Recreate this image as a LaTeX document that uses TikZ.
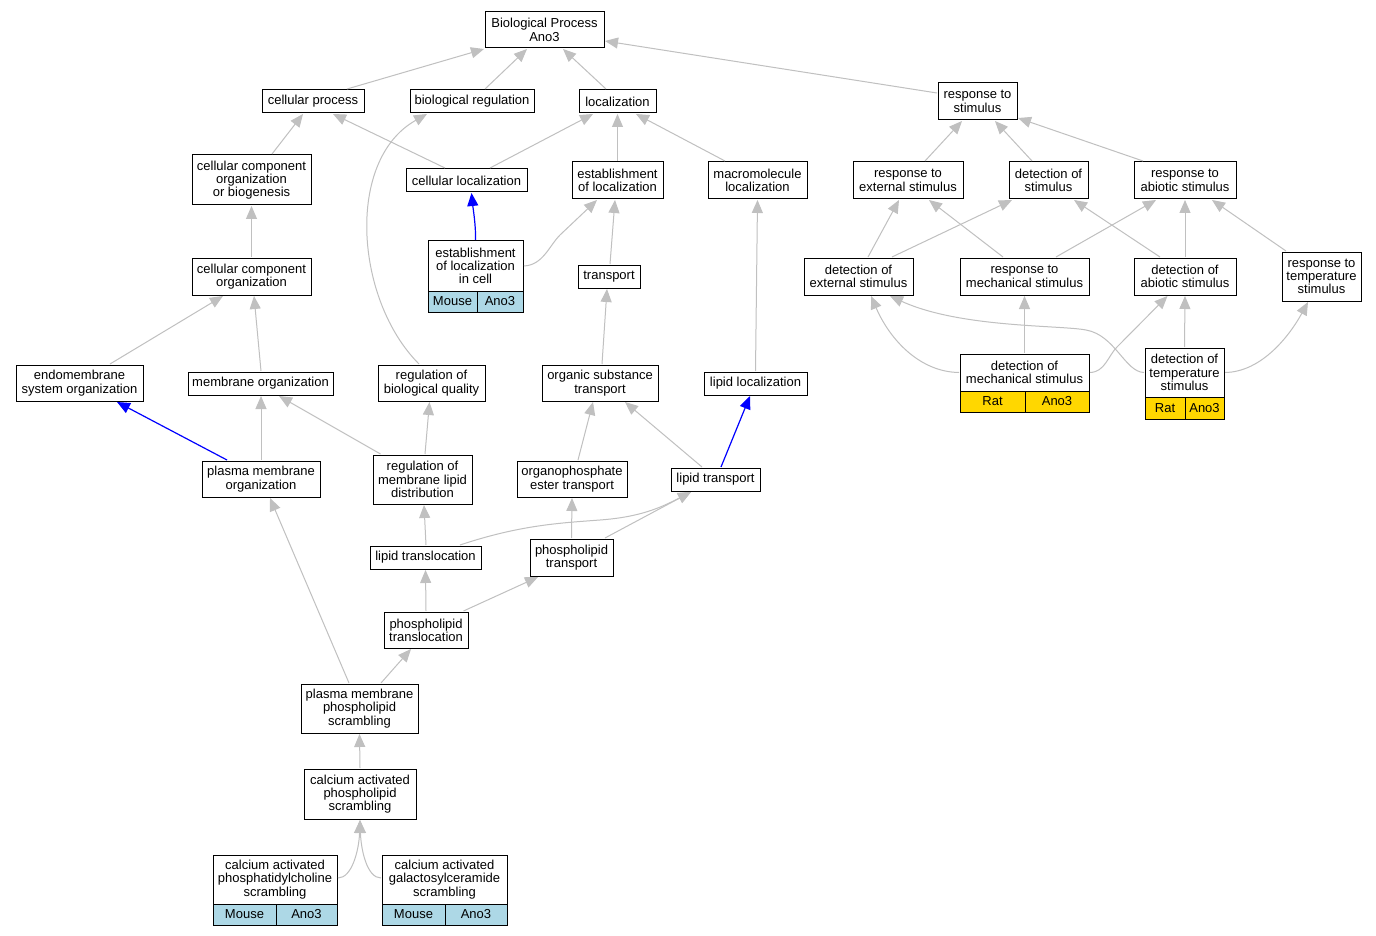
\documentclass[tikz,border=0pt]{standalone}
\usepackage{fontspec}
\setmainfont{Liberation Sans}
\usetikzlibrary{arrows.meta}
\definecolor{edgegray}{HTML}{C0C0C0}
\definecolor{mouseblue}{HTML}{ADD8E6}
\definecolor{ratgold}{HTML}{FFD700}
\newcommand\gobox[6]{\node[box, minimum width={(#4)-(#2)}, minimum height={(#5)-(#3)}] (#1) at ({((#2)+(#4))/2},{((#3)+(#5))/2}) {#6};}
\newcommand\gocell[7]{\node[box, fill=#7, minimum width={(#4)-(#2)}, minimum height={(#5)-(#3)}] (#1) at ({((#2)+(#4))/2},{((#3)+(#5))/2}) {#6};}
\begin{document}
\begin{tikzpicture}[x=1pt,y=-1pt,
  box/.style={draw=black, line width=1pt, fill=white, inner sep=0pt, outer sep=1pt, align=center, rectangle, font=\fontsize{13}{13.3}\selectfont},
  edge/.style={draw=edgegray, line width=1pt, -{Triangle[length=13pt,width=11pt,fill=edgegray]}},
  bedge/.style={draw=blue, line width=1.2pt, -{Triangle[length=13pt,width=11pt,fill=blue]}}]
\fill[white] (0,0) rectangle (1376,936);
\useasboundingbox (0,0) rectangle (1376,936);

\gobox{BP}{485}{12}{604}{48}{Biological Process\\Ano3}
\gobox{cp}{262}{90}{364}{113}{cellular process}
\gobox{br}{410}{90}{534}{113}{biological regulation}
\gobox{loc}{579}{90}{656}{113}{localization}
\gobox{rts}{938}{83}{1017}{120}{response to\\stimulus}
\gobox{ccob}{192}{155}{311}{205}{cellular component\\organization\\or biogenesis}
\gobox{cl}{406}{169}{527}{192}{cellular localization}
\gobox{eol}{572}{162}{663}{199}{establishment\\of localization}
\gobox{ml}{708}{162}{807}{199}{macromolecule\\localization}
\gobox{res}{853}{162}{963}{199}{response to\\external stimulus}
\gobox{ds}{1009}{162}{1088}{199}{detection of\\stimulus}
\gobox{ras}{1134}{162}{1236}{199}{response to\\abiotic stimulus}
\gobox{elic}{428}{241}{523}{291}{establishment\\of localization\\in cell}
\gocell{elicA}{428}{291}{477}{312}{Mouse}{mouseblue}
\gocell{elicB}{477}{291}{523}{312}{Ano3}{mouseblue}
\gobox{tr}{578}{265}{640}{288}{transport}
\gobox{cco}{192}{258}{311}{295}{cellular component\\organization}
\gobox{des}{804}{258}{913}{295}{detection of\\external stimulus}
\gobox{rms}{960}{258}{1089}{295}{response to\\mechanical stimulus}
\gobox{das}{1134}{258}{1236}{295}{detection of\\abiotic stimulus}
\gobox{rtemp}{1282}{252}{1361}{301}{response to\\temperature\\stimulus}
\gobox{dms}{960}{354}{1089}{391}{detection of\\mechanical stimulus}
\gocell{dmsA}{960}{391}{1025}{412}{Rat}{ratgold}
\gocell{dmsB}{1025}{391}{1089}{412}{Ano3}{ratgold}
\gobox{dts}{1145}{348}{1224}{397}{detection of\\temperature\\stimulus}
\gocell{dtsA}{1145}{397}{1185}{419}{Rat}{ratgold}
\gocell{dtsB}{1185}{397}{1224}{419}{Ano3}{ratgold}
\gobox{eso}{16}{365}{143}{401}{endomembrane\\system organization}
\gobox{mo}{188}{372}{333}{395}{membrane organization}
\gobox{rbq}{378}{365}{485}{401}{regulation of\\biological quality}
\gobox{ost}{542}{365}{658}{401}{organic substance\\transport}
\gobox{ll}{704}{372}{807}{395}{lipid localization}
\gobox{pmo}{202}{461}{320}{497}{plasma membrane\\organization}
\gobox{rmld}{373}{455}{472}{504}{regulation of\\membrane lipid\\distribution}
\gobox{oet}{517}{461}{627}{497}{organophosphate\\ester transport}
\gobox{lt}{671}{468}{760}{491}{lipid transport}
\gobox{ltl}{370}{546}{481}{569}{lipid translocation}
\gobox{pt}{530}{539}{613}{576}{phospholipid\\transport}
\gobox{ptl}{384}{612}{468}{648}{phospholipid\\translocation}
\gobox{pmps}{301}{684}{418}{733}{plasma membrane\\phospholipid\\scrambling}
\gobox{caps}{304}{769}{416}{819}{calcium activated\\phospholipid\\scrambling}
\gobox{capc}{213}{855}{337}{904}{calcium activated\\phosphatidylcholine\\scrambling}
\gocell{capcA}{213}{904}{276}{925}{Mouse}{mouseblue}
\gocell{capcB}{276}{904}{337}{925}{Ano3}{mouseblue}
\gobox{cagc}{382}{855}{507}{904}{calcium activated\\galactosylceramide\\scrambling}
\gocell{cagcA}{382}{904}{445}{925}{Mouse}{mouseblue}
\gocell{cagcB}{445}{904}{507}{925}{Ano3}{mouseblue}

% left / middle edges
\draw[edge] ([xshift=34]cp.north) -- (BP.south west);
\draw[edge] ([xshift=13]br.north) -- ([xshift=-17.5]BP.south);
\draw[edge] ([xshift=-11.5]loc.north) -- ([xshift=18.5]BP.south);
\draw[edge] ([yshift=8.5]rts.west) -- ([yshift=-11]BP.east);
\draw[edge] ([xshift=20.5]ccob.north) -- ([xshift=-10]cp.south);
\draw[edge] ([xshift=-21.5]cl.north) -- ([xshift=20]cp.south);
\draw[edge] ([xshift=23.5]cl.north) -- ([xshift=-24.5]loc.south);
\draw[edge] ([xshift=-12.5]rbq.north) .. controls (355,300) and (345,160) .. ([xshift=-45]br.south);
\draw[edge] (eol.north) -- (loc.south);
\draw[edge] ([xshift=-32.5]ml.north) -- ([xshift=18.5]loc.south);
\draw[bedge] (elic.north) .. controls (476,226) and (473,208) .. ([xshift=5]cl.south);
\draw[edge] (elic.east) .. controls (543,265) and (549,246) .. (560,235) -- ([xshift=-20.5]eol.south);
\draw[edge] ([xshift=1]tr.north) -- ([xshift=-2.5]eol.south);
\draw[edge] ([xshift=2]ost.north) -- ([xshift=-2]tr.south);
\draw[edge] (ll.north) -- (ml.south);
\draw[edge] (cco.north) -- (ccob.south);
\draw[edge] ([xshift=30.5]eso.north) -- ([xshift=-28.5]cco.south);
\draw[edge] ([xshift=0.5]mo.north) -- ([xshift=2.5]cco.south);
\draw[bedge] ([xshift=-34]pmo.north) -- ([xshift=37.5]eso.south);
\draw[edge] (pmo.north) -- ([xshift=0.5]mo.south);
\draw[edge] ([xshift=-42]rmld.north) -- ([xshift=18.5]mo.south);
\draw[edge] ([xshift=2.5]rmld.north) -- ([xshift=-2]rbq.south);
\draw[edge] ([xshift=6]oet.north) -- ([xshift=-7]ost.south);
\draw[edge] ([xshift=-13.5]lt.north) -- ([xshift=25]ost.south);
\draw[bedge] ([xshift=5.5]lt.north) -- ([xshift=-5.5]ll.south);
\draw[edge] ([xshift=0.5]ltl.north) -- ([xshift=1.5]rmld.south);
\draw[edge] ([xshift=34.5]ltl.north) .. controls (520,525) and (560,523) .. (600,520) .. controls (640,517) and (660,508) .. ([xshift=-24.5]lt.south);
\draw[edge] (pt.north) -- (oet.south);
\draw[edge] ([xshift=33.5]pt.north) -- ([xshift=-24.5]lt.south);
\draw[edge] (ptl.north) -- (ltl.south);
\draw[edge] ([xshift=37.5]ptl.north) -- ([xshift=-33.5]pt.south);
\draw[edge] ([xshift=-10.5]pmps.north) -- ([xshift=9]pmo.south);
\draw[edge] ([xshift=21.5]pmps.north) -- ([xshift=-15]ptl.south);
\draw[edge] (caps.north) -- (pmps.south);
\draw[edge] ([yshift=1.5]capc.east) .. controls (352,878) and (359,850) .. (caps.south);
\draw[edge] ([yshift=1.5]cagc.west) .. controls (367,878) and (361,850) .. (caps.south);

% right edges
\draw[edge] ([xshift=17]res.north) -- ([xshift=-15.5]rts.south);
\draw[edge] ([xshift=-16.5]ds.north) -- ([xshift=17.5]rts.south);
\draw[edge] ([xshift=-42]ras.north) -- ([yshift=3]rts.south east);
\draw[edge] ([xshift=9.5]des.north) -- ([xshift=-9]res.south);
\draw[edge] ([xshift=33.5]des.north) -- ([xshift=-36.5]ds.south);
\draw[edge] ([xshift=-21.5]rms.north) -- ([xshift=21]res.south);
\draw[edge] ([xshift=31.5]rms.north) -- ([xshift=-29]ras.south);
\draw[edge] ([xshift=-25]das.north) -- ([xshift=25.5]ds.south);
\draw[edge] (das.north) -- (ras.south);
\draw[edge] ([xshift=-35.5]rtemp.north) -- ([xshift=27]ras.south);
\draw[edge] (dms.west) .. controls (920,372) and (890,340) .. ([xshift=12.5]des.south);
\draw[edge] (dms.north) -- (rms.south);
\draw[edge] (dms.east) .. controls (1105,372) and (1108,356) .. (1117,347) -- ([xshift=-17.5]das.south);
\draw[edge] (dts.west) .. controls (1125,372) and (1115,335) .. (1086,330) .. controls (1060,325) and (960,328) .. ([xshift=31.5]des.south);
\draw[edge] (dts.north) -- (das.south);
\draw[edge] (dts.east) .. controls (1262,372) and (1290,335) .. ([xshift=-13.5]rtemp.south);
\end{tikzpicture}
\end{document}
